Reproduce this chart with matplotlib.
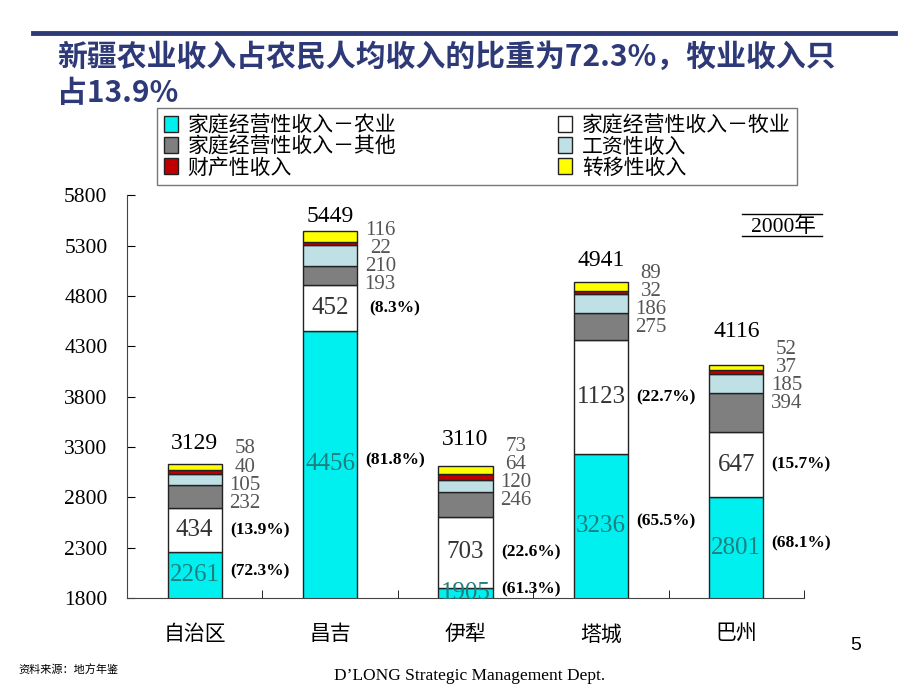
import matplotlib.pyplot as plt
from matplotlib.lines import Line2D
import numpy as np

plt.rcParams['font.family'] = ['Noto Sans CJK SC', 'DejaVu Sans']

regions = ['自治区', '昌吉', '伊犁', '塔城', '巴州']
series_names = ['家庭经营性收入－农业', '家庭经营性收入－牧业', '家庭经营性收入－其他',
                '工资性收入', '财产性收入', '转移性收入']
agri = [2261, 4456, 1905, 3236, 2801]
herd = [434, 452, 703, 1123, 647]
other = [232, 193, 246, 275, 394]
wage = [105, 210, 120, 186, 185]
prop = [40, 22, 64, 32, 37]
trans = [58, 116, 73, 89, 52]
totals = [3129, 5449, 3110, 4941, 4116]
agri_pct = ['(72.3%)', '(81.8%)', '(61.3%)', '(65.5%)', '(68.1%)']
herd_pct = ['(13.9%)', '(8.3%)', '(22.6%)', '(22.7%)', '(15.7%)']

colors = ['#00F0F0', '#FFFFFF', '#7F7F7F', '#BFE1E6', '#C00000', '#FFFF00']
serif = ['Liberation Serif', 'DejaVu Serif']
navy = '#2E3A78'

# label offsets in points (layout only)
total_dy = [15, 10, 19, 15, 24]
side_dy = [11, 0, 14, 6, 11]

fig = plt.figure(figsize=(9.2, 6.9), dpi=100)
ax = fig.add_axes([0.138, 0.133, 0.736, 0.584])

layers = [agri, herd, other, wage, prop, trans]
x = np.arange(len(regions))
bottom = np.zeros(len(regions))
handles = []
for vals, col, name in zip(layers, colors, series_names):
    h = ax.bar(x, vals, 0.4, bottom=bottom, color=col, edgecolor='#222222',
               linewidth=1.0, label=name)
    handles.append(h)
    bottom += np.array(vals)

ax.set_ylim(1800, 5800)
ax.set_xlim(-0.5, len(regions) - 0.5)
ax.set_yticks(range(1800, 5801, 500))
ax.set_yticklabels([str(v) for v in range(1800, 5801, 500)], family=serif, fontsize=15.5)
ax.tick_params(axis='y', direction='in', length=6, pad=14)
ax.set_xticks(x)
ax.set_xticklabels(regions, fontsize=15)
ax.tick_params(axis='x', length=0, pad=18)
ax.set_xticks(np.arange(len(regions)) + 0.5, minor=True)
ax.tick_params(axis='x', which='minor', direction='in', length=6)
for s in ['top', 'right']:
    ax.spines[s].set_visible(False)
for s in ['left', 'bottom']:
    ax.spines[s].set_color('#444444')

for i in range(len(regions)):
    top = sum(l[i] for l in layers)
    ax.annotate(str(totals[i]), (x[i], top), xytext=(0, total_dy[i]),
                textcoords='offset points', ha='center', va='center',
                family=serif, fontsize=17)
    # agriculture segment value
    a_mid = (1800 + agri[i]) / 2
    ax.text(x[i], a_mid, str(agri[i]), ha='center', va='center',
            family=serif, fontsize=18, color='#1F7F7F')
    ax.text(x[i] + 0.48, a_mid + 40, agri_pct[i], ha='center', va='center',
            family=serif, fontsize=12.5, fontweight='bold')
    h_mid = agri[i] + herd[i] / 2
    ax.text(x[i], h_mid, str(herd[i]), ha='center', va='center',
            family=serif, fontsize=18, color='#333333')
    ax.text(x[i] + 0.48, h_mid, herd_pct[i], ha='center', va='center',
            family=serif, fontsize=12.5, fontweight='bold')
    small = [trans[i], prop[i], wage[i], other[i]]
    for k, v in enumerate(small):
        ax.annotate(str(v), (x[i] + 0.37, top), xytext=(0, side_dy[i] - 13 * k),
                    textcoords='offset points', ha='center', va='center',
                    family=serif, fontsize=15, color='#555555')

order = [0, 2, 4, 1, 3, 5]
leg = fig.legend([handles[j] for j in order], [series_names[j] for j in order],
                 ncol=2, loc='upper left', bbox_to_anchor=(0.171, 0.729, 0.695, 0.114),
                 mode='expand', fontsize=15, frameon=True, fancybox=False,
                 edgecolor='#555555', handlelength=0.7, handleheight=0.8,
                 handletextpad=0.45, labelspacing=-0.05, borderpad=0.3,
                 borderaxespad=0, columnspacing=2.0)
leg.get_frame().set_linewidth(1.0)

# title and rule
fig.add_artist(Line2D([0.036, 0.973], [0.952, 0.952], color=navy, lw=3.5))
fig.text(0.062, 0.917, '新疆农业收入占农民人均收入的比重为72.3%，牧业收入只',
         ha='left', va='center', fontsize=21.5, fontweight='bold', color=navy)
fig.text(0.062, 0.865, '占13.9%',
         ha='left', va='center', fontsize=21.5, fontweight='bold', color=navy)

# year tag
fig.text(0.852, 0.671, '2000年', ha='center', va='center',
         family=['Liberation Serif', 'Noto Sans CJK SC'], fontsize=15.5)
fig.add_artist(Line2D([0.807, 0.894], [0.690, 0.690], color='black', lw=1))
fig.add_artist(Line2D([0.807, 0.894], [0.658, 0.658], color='black', lw=1))

fig.text(0.02, 0.03, '资料来源：地方年鉴', fontsize=8, ha='left', va='center')
fig.text(0.51, 0.02, 'D\u2019LONG Strategic Management Dept.', family=serif,
         fontsize=12.5, ha='center', va='center')
fig.text(0.93, 0.065, '5', fontsize=14, ha='center', va='center', family=['Liberation Sans'])

fig.savefig('out.png', dpi=100)
